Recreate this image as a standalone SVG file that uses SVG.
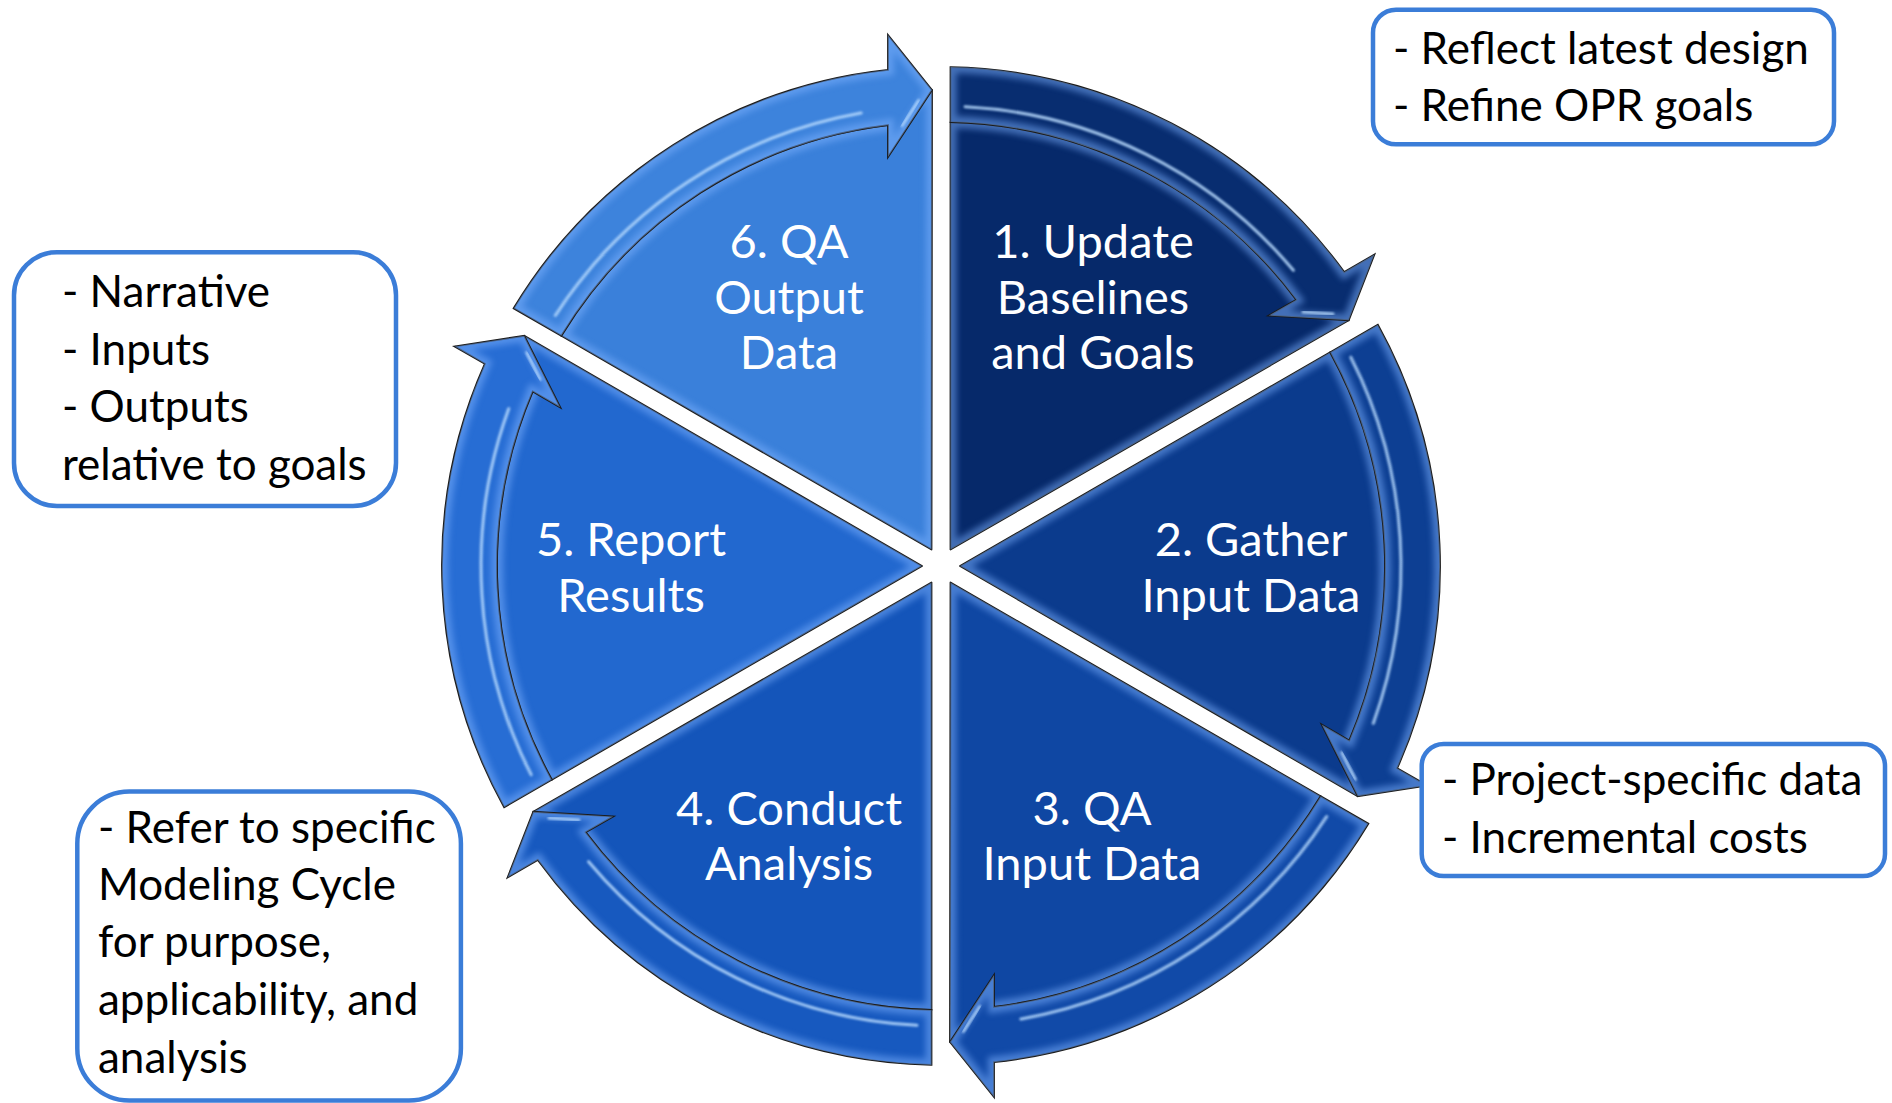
<svg xmlns="http://www.w3.org/2000/svg" xmlns:xlink="http://www.w3.org/1999/xlink" width="1892" height="1103" viewBox="0 0 1892 1103">
  <defs>
    <style>
      .wedge { stroke: #1a1a1a; stroke-width: 1.8; stroke-linejoin: round; }
      .arrow { stroke: #1a1a1a; stroke-width: 1.8; stroke-linejoin: miter; }
      .glow { fill: none; stroke: #7fb2ff; stroke-width: 12; opacity: 0.5; }
      .shine { fill: none; stroke: #b9dcff; stroke-width: 3; stroke-linecap: round; opacity: 0.85; }
      .lbl { font-family: Lato, "Open Sans", "Liberation Sans", sans-serif; font-size: 47px; fill: #ffffff; text-anchor: middle; }
      .note { font-family: Lato, "Open Sans", "Liberation Sans", sans-serif; font-size: 44px; fill: #000000; }
      .box { fill: #ffffff; stroke: #3b7dd8; stroke-width: 4.5; }
    </style>
    <!-- one 60-degree sector, drawn for the first step (start edge at 12 o'clock), centred on the origin -->
    <path id="wedgeShape" d="M9.5,-16.45 L9.5,-443.9 A444,444 0 0 1 355.27,-266.32 L407.73,-245.79 Z"/>
    <!-- curved arrow band running round the rim of the same sector -->
    <path id="arrowShape" d="M9.5,-498.91 A499,499 0 0 1 403.21,-293.99 L433.36,-311.4 L407.73,-245.79 L327.71,-250.4 L355.27,-266.32 A444,444 0 0 0 9.5,-443.9 Z"/>
    <path id="arrowShine" d="M24.07,-459.37 A460,460 0 0 1 352.38,-295.68"/>
    <path id="tipShine" d="M392,-252 L362,-254"/>
    <clipPath id="clipWedge"><use xlink:href="#wedgeShape"/></clipPath>
    <clipPath id="clipArrow"><use xlink:href="#arrowShape"/></clipPath>
    <filter id="soft" x="-10%" y="-10%" width="120%" height="120%"><feGaussianBlur stdDeviation="3"/></filter>
    <filter id="softer" x="-10%" y="-10%" width="120%" height="120%"><feGaussianBlur stdDeviation="0.8"/></filter>
  </defs>

  <rect width="1892" height="1103" fill="#ffffff"/>

  <!-- cycle steps -->
  <g id="step1">
    <g transform="translate(941 566) rotate(0)">
      <use xlink:href="#wedgeShape" class="wedge" fill="#06296a"/>
      <use xlink:href="#wedgeShape" class="glow" clip-path="url(#clipWedge)" filter="url(#soft)"/>
      <use xlink:href="#arrowShape" class="arrow" fill="#082d70"/>
      <use xlink:href="#arrowShape" class="glow" clip-path="url(#clipArrow)" filter="url(#soft)"/>
      <use xlink:href="#arrowShine" class="shine" filter="url(#softer)"/>
      <use xlink:href="#tipShine" class="shine" filter="url(#softer)"/>
    </g>
    <text class="lbl"><tspan x="1093" y="258">1. Update</tspan><tspan x="1093" y="313.5">Baselines</tspan><tspan x="1093" y="369">and Goals</tspan></text>
  </g>

  <g id="step2">
    <g transform="translate(941 566) rotate(60)">
      <use xlink:href="#wedgeShape" class="wedge" fill="#0b3b8d"/>
      <use xlink:href="#wedgeShape" class="glow" clip-path="url(#clipWedge)" filter="url(#soft)"/>
      <use xlink:href="#arrowShape" class="arrow" fill="#0d3f93"/>
      <use xlink:href="#arrowShape" class="glow" clip-path="url(#clipArrow)" filter="url(#soft)"/>
      <use xlink:href="#arrowShine" class="shine" filter="url(#softer)"/>
      <use xlink:href="#tipShine" class="shine" filter="url(#softer)"/>
    </g>
    <text class="lbl"><tspan x="1251" y="556">2. Gather</tspan><tspan x="1251" y="612">Input Data</tspan></text>
  </g>

  <g id="step3">
    <g transform="translate(941 566) rotate(120)">
      <use xlink:href="#wedgeShape" class="wedge" fill="#0f47a3"/>
      <use xlink:href="#wedgeShape" class="glow" clip-path="url(#clipWedge)" filter="url(#soft)"/>
      <use xlink:href="#arrowShape" class="arrow" fill="#114aa8"/>
      <use xlink:href="#arrowShape" class="glow" clip-path="url(#clipArrow)" filter="url(#soft)"/>
      <use xlink:href="#arrowShine" class="shine" filter="url(#softer)"/>
      <use xlink:href="#tipShine" class="shine" filter="url(#softer)"/>
    </g>
    <text class="lbl"><tspan x="1092" y="825">3. QA</tspan><tspan x="1092" y="880">Input Data</tspan></text>
  </g>

  <g id="step4">
    <g transform="translate(941 566) rotate(180)">
      <use xlink:href="#wedgeShape" class="wedge" fill="#1455ba"/>
      <use xlink:href="#wedgeShape" class="glow" clip-path="url(#clipWedge)" filter="url(#soft)"/>
      <use xlink:href="#arrowShape" class="arrow" fill="#1759bf"/>
      <use xlink:href="#arrowShape" class="glow" clip-path="url(#clipArrow)" filter="url(#soft)"/>
      <use xlink:href="#arrowShine" class="shine" filter="url(#softer)"/>
      <use xlink:href="#tipShine" class="shine" filter="url(#softer)"/>
    </g>
    <text class="lbl"><tspan x="789" y="825">4. Conduct</tspan><tspan x="789" y="880">Analysis</tspan></text>
  </g>

  <g id="step5">
    <g transform="translate(941 566) rotate(240)">
      <use xlink:href="#wedgeShape" class="wedge" fill="#2268cf"/>
      <use xlink:href="#wedgeShape" class="glow" clip-path="url(#clipWedge)" filter="url(#soft)"/>
      <use xlink:href="#arrowShape" class="arrow" fill="#276dd4"/>
      <use xlink:href="#arrowShape" class="glow" clip-path="url(#clipArrow)" filter="url(#soft)"/>
      <use xlink:href="#arrowShine" class="shine" filter="url(#softer)"/>
      <use xlink:href="#tipShine" class="shine" filter="url(#softer)"/>
    </g>
    <text class="lbl"><tspan x="631" y="556">5. Report</tspan><tspan x="631" y="612">Results</tspan></text>
  </g>

  <g id="step6">
    <g transform="translate(941 566) rotate(300)">
      <use xlink:href="#wedgeShape" class="wedge" fill="#3a80da"/>
      <use xlink:href="#wedgeShape" class="glow" clip-path="url(#clipWedge)" filter="url(#soft)"/>
      <use xlink:href="#arrowShape" class="arrow" fill="#3d83dc"/>
      <use xlink:href="#arrowShape" class="glow" clip-path="url(#clipArrow)" filter="url(#soft)"/>
      <use xlink:href="#arrowShine" class="shine" filter="url(#softer)"/>
      <use xlink:href="#tipShine" class="shine" filter="url(#softer)"/>
    </g>
    <text class="lbl"><tspan x="789" y="258">6. QA</tspan><tspan x="789" y="313.5">Output</tspan><tspan x="789" y="369">Data</tspan></text>
  </g>

  <!-- callout notes -->
  <g id="note-baselines">
    <rect class="box" x="1373" y="9.7" width="461" height="134.6" rx="23"/>
    <text class="note"><tspan x="1393" y="64">- Reflect latest design</tspan><tspan x="1393" y="120.7">- Refine OPR goals</tspan></text>
  </g>

  <g id="note-report">
    <rect class="box" x="14" y="252.3" width="382" height="253.7" rx="43"/>
    <text class="note"><tspan x="62" y="306.7">- Narrative</tspan><tspan x="62" y="365">- Inputs</tspan><tspan x="62" y="421.7">- Outputs</tspan><tspan x="62" y="480">relative to goals</tspan></text>
  </g>

  <g id="note-gather">
    <rect class="box" x="1421.7" y="744" width="463.3" height="132" rx="22"/>
    <text class="note"><tspan x="1442" y="795">- Project-specific data</tspan><tspan x="1442" y="853.3">- Incremental costs</tspan></text>
  </g>

  <g id="note-analysis">
    <rect class="box" x="77.3" y="791.6" width="383.6" height="308.9" rx="52"/>
    <text class="note"><tspan x="98" y="843.3">- Refer to specific</tspan><tspan x="98" y="900">Modeling Cycle</tspan><tspan x="98" y="956.7">for purpose,</tspan><tspan x="98" y="1015">applicability, and</tspan><tspan x="98" y="1072.7">analysis</tspan></text>
  </g>
</svg>
